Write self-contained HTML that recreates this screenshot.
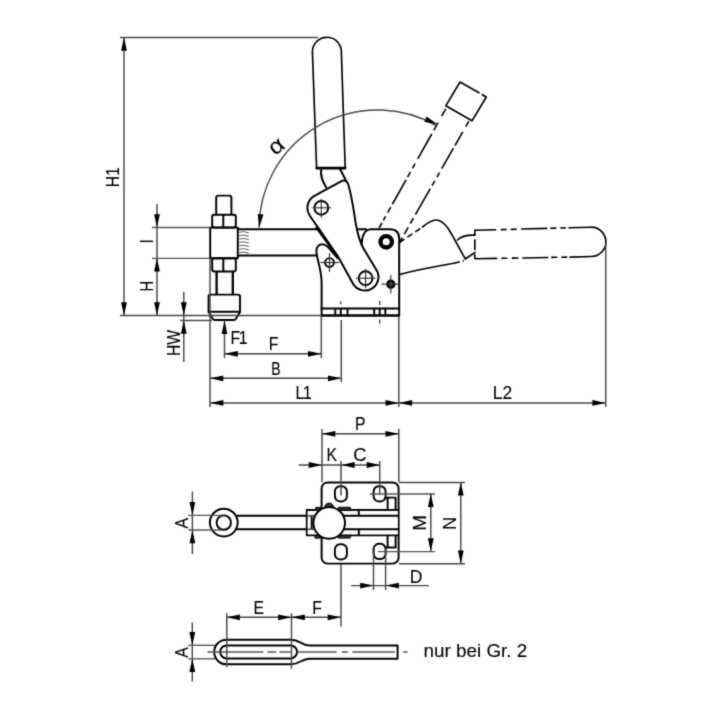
<!DOCTYPE html>
<html lang="de"><head><meta charset="utf-8"><title>Senkrechtspanner – Maßzeichnung</title>
<style>
html,body{margin:0;padding:0;background:#fff;}
body{width:720px;height:720px;overflow:hidden;}
svg{display:block;}
text{font-family:"Liberation Sans",sans-serif;fill:#000;stroke:#000;stroke-width:0.1px;}
.t{stroke:#484848;stroke-width:1.45;fill:none;}
.c{stroke:#333;stroke-width:1.15;fill:none;}
.t2{stroke:#444;stroke-width:0.9;fill:none;}
.t3{stroke:#555;stroke-width:1.35;fill:none;}
.k{stroke:#000;stroke-width:1.95;fill:none;stroke-linejoin:round;stroke-linecap:round;}
.kw{stroke:#000;stroke-width:1.95;fill:#fff;stroke-linejoin:round;stroke-linecap:round;}
.kf{stroke:#000;stroke-width:1;fill:#333;stroke-linejoin:round;}
.kmw{stroke:#000;stroke-width:1.65;fill:#fff;stroke-linejoin:round;stroke-linecap:round;}
.km{stroke:#000;stroke-width:1.65;fill:none;stroke-linejoin:round;stroke-linecap:round;}
.kk2{stroke:#000;stroke-width:2.3;fill:none;}
.kk{stroke:#000;stroke-width:2.6;fill:none;stroke-linecap:round;}
.kd{stroke:#000;stroke-width:1.6;fill:none;}
.a{fill:#000;stroke:none;}
</style></head>
<body>
<svg width="720" height="720" viewBox="0 0 720 720" role="img" aria-label="Maßzeichnung Senkrechtspanner">
<defs>
<filter id="soft" x="0" y="0" width="720" height="720" filterUnits="userSpaceOnUse" color-interpolation-filters="sRGB">
<feConvolveMatrix order="3" kernelMatrix="0.0196 0.1008 0.0196 0.1008 0.5184 0.1008 0.0196 0.1008 0.0196" edgeMode="duplicate" preserveAlpha="true"/>
</filter>
</defs>
<g filter="url(#soft)">
<rect width="720" height="720" fill="#fff"/>
<!-- side view: clamping arm -->
<line class="k" x1="238" y1="229.2" x2="366" y2="229.2" />
<line class="k" x1="238" y1="255.5" x2="317" y2="255.5" />
<path class="t2" d="M239.3,232.3 q4,-1.6 9.5,0.6" />
<path class="t2" d="M239.3,235.7 q4,-1.6 9.5,0.6" />
<path class="t2" d="M239.3,239.1 q4,-1.6 9.5,0.6" />
<path class="t2" d="M239.3,242.5 q4,-1.6 9.5,0.6" />
<path class="t2" d="M239.3,245.9 q4,-1.6 9.5,0.6" />
<path class="t2" d="M239.3,249.3 q4,-1.6 9.5,0.6" />
<path class="t2" d="M239.3,252.7 q4,-1.6 9.5,0.6" />
<!-- spindle with nuts and pressure pad -->
<path class="k" d="M216.2,214 V197.8 q0,-2.2 2.2,-2.2 h10.8 q2.2,0 2.2,2.2 V214" />
<path class="k" d="M212.2,216.6 q0,-1.8 1.8,-1.8 h20 q1.8,0 1.8,1.8 v9 q0,1.8 -1.8,1.8 h-20 q-1.8,0 -1.8,-1.8 z M223.3,214.8 v12.6" />
<path class="k" d="M210.2,227.6 h27.6 v30.6 h-27.6 z" />
<path class="k" d="M212.2,260 q0,-1.8 1.8,-1.8 h20 q1.8,0 1.8,1.8 v9.6 q0,1.8 -1.8,1.8 h-20 q-1.8,0 -1.8,-1.8 z M223.3,258.4 v12.8" />
<path class="kk2" d="M216.6,271.6 V294.4 M232.8,271.6 V294.4" />
<path class="k" d="M210.4,294.6 h27.8 q1.8,0 1.8,1.8 V311.7 l-4,7 q-0.8,1.3 -2.4,1.3 h-18.6 q-1.6,0 -2.4,-1.3 l-4,-7 V296.4 q0,-1.8 1.8,-1.8 z" />
<line class="k" x1="208.6" y1="311.7" x2="240" y2="311.7" />
<!-- side view: base body -->
<path class="kw" d="M362,248 C360.8,238 364,229.2 371,229.2 H390 Q399.2,229.2 399.2,239 V315.5 H321.6 V282 C321.3,268 316.6,259 316.4,251 C316.3,246.5 319.3,244.2 322.3,244.2 C326,244.2 328.5,247 331,250.5 L337.5,258" />
<path class="k" d="M321.6,308.4 H399.2 M321.6,315.5 H399.2" />
<line class="k" x1="335.3" y1="309" x2="335.3" y2="315" />
<line class="k" x1="340.8" y1="309" x2="340.8" y2="315" />
<line class="k" x1="347.5" y1="309" x2="347.5" y2="315" />
<line class="k" x1="374.2" y1="309" x2="374.2" y2="315" />
<line class="k" x1="379.7" y1="309" x2="379.7" y2="315" />
<line class="k" x1="385.3" y1="309" x2="385.3" y2="315" />
<line class="t" x1="340.8" y1="301.5" x2="340.8" y2="304.5" />
<line class="t" x1="379.7" y1="300.8" x2="379.7" y2="305" />
<line class="t" x1="379.7" y1="319.5" x2="379.7" y2="323.5" />
<circle cx="386.2" cy="241.8" r="5.7" fill="#fff" stroke="#000" stroke-width="4.3"/>
<circle class="k" cx="329.5" cy="262.5" r="4.4"/>
<line class="c" x1="320.5" y1="262.5" x2="339" y2="262.5" />
<line class="c" x1="329.5" y1="253" x2="329.5" y2="272" />
<circle cx="390.8" cy="284.2" r="3.4" fill="#4a4a4a" stroke="#000" stroke-width="2.6"/>
<line class="c" x1="381.5" y1="284.2" x2="400" y2="284.2" />
<line class="c" x1="390.8" y1="275" x2="390.8" y2="293.5" />
<!-- side view: open lever and phantom handle -->
<path class="kd" d="M399.5,242.5 L422.5,227" stroke-dasharray="6 3.5"/>
<path class="km" d="M422.5,227 C428,222.5 432,220 436,220 C441,220 445,224 448.5,229 C453,236 458,246 462,253 C463.5,256 464.5,257.5 465.5,258.8" />
<path class="km" d="M399.5,274.6 C408,272 425,268.5 437.5,266.2 C445,264.8 451,263.7 455,263" />
<path class="kd" d="M455,263 L464,260.5" stroke-dasharray="5 3"/>
<path class="km" d="M457.5,240 C461,236.5 466,234.8 475,235.2" />
<path class="kd" d="M474.8,229.8 V259" stroke-dasharray="5.5 4 11 4 5.5"/>
<path class="km" d="M475,252.5 L465.5,258.8" />
<path class="kd" d="M474.8,230.3 L573,227.7" stroke-dasharray="21.5 4.5 6 4 6 4.5 26 3 6 4 5.5 40"/>
<path class="kd" d="M474.8,258.8 L573,257" stroke-dasharray="22.5 4 6 4.5 6.5 4 26 3 6 4 6 40"/>
<path class="km" d="M569,227.8 L591,227.2 A14.6,14.6 0 0 1 591.5,256.5 L570,257.1" />
<!-- side view: toggle link and handle -->
<path class="kw" d="M309.8,215.7 L337.7,256.1 L353.5,284.4 A13.6,13.6 0 0 0 377.2,271.2 L363.8,249 C359.5,242 357.5,234 355.5,222 C353.5,208 351.5,196 348.6,185.5 Q347,179.5 342,180.8 L314.4,195.8 A13.9,13.9 0 0 0 309.8,215.7 Z" />
<polygon class="a" points="314.9,227.6 318.4,226.6 338.6,256.6 337.1,257.8"/>
<circle class="k" cx="321.3" cy="207.8" r="6.9"/>
<line class="c" x1="312.5" y1="207.8" x2="331" y2="207.8" />
<line class="c" x1="321.3" y1="199" x2="321.3" y2="217.5" />
<circle class="k" cx="365.6" cy="278.2" r="6.9"/>
<line class="c" x1="356" y1="278.2" x2="375.5" y2="278.2" />
<line class="c" x1="365.6" y1="268.8" x2="365.6" y2="288" />
<path class="k" d="M321.3,169 C320,176 322.3,181 326.3,187.6 M340,169 L346.3,181" />
<path class="kmw" d="M316.6,168 L312.4,51.2 A14.5,14.5 0 0 1 341.3,50.2 L345.2,168 Z" />
<line class="kk" x1="316.6" y1="168.1" x2="345.2" y2="168.1" />
<!-- phantom handle at opening angle -->
<path class="kd" d="M379.2,227.8 L445.8,108.8" stroke-dasharray="5.5 3 4.5 4.5 6.1 3.4 28 3 6 4 5.5 5.5 28.5 4.5 8.6 7.4 9"/>
<path class="kd" d="M399.5,242.5 L468.8,121.3" stroke-dasharray="5.5 4.1 7.9 4.4 6.1 4 30 3.6 5.4 4.4 5.2 4.4 23.7 3 15.8 6 6.1"/>
<path class="km" d="M479,92.8 L460,82 L445.8,105.8 L472,120.8 L486.3,97 L482.3,94.7" />
<!-- side view dimensions -->
<line class="t" x1="120" y1="37.5" x2="318" y2="37.5" />
<line class="t" x1="124" y1="37.5" x2="124" y2="315.5" />
<polygon class="a" points="124.00,37.50 126.90,50.80 121.10,50.80"/>
<polygon class="a" points="124.00,315.50 121.10,302.20 126.90,302.20"/>
<text font-size="17.5" text-anchor="middle" transform="translate(118.8 177.3) rotate(-90) scale(0.9 1)" >H1</text>
<line class="t" x1="120" y1="315.5" x2="321.5" y2="315.5" />
<line class="t3" x1="152" y1="227.5" x2="210" y2="227.5" />
<line class="t3" x1="152" y1="258.3" x2="210" y2="258.3" />
<line class="t" x1="157" y1="204" x2="157" y2="315.5" />
<polygon class="a" points="157.00,227.50 154.10,214.20 159.90,214.20"/>
<polygon class="a" points="157.00,258.30 159.90,271.60 154.10,271.60"/>
<polygon class="a" points="157.00,315.50 154.10,302.20 159.90,302.20"/>
<text font-size="17.5" text-anchor="middle" transform="translate(152.5 241.2) rotate(-90) scale(0.9 1)" >I</text>
<text font-size="17.5" text-anchor="middle" transform="translate(152.5 286.3) rotate(-90) scale(0.84 1)" >H</text>
<line class="t" x1="183.8" y1="292" x2="183.8" y2="362" />
<polygon class="a" points="183.80,315.50 180.90,302.20 186.70,302.20"/>
<polygon class="a" points="183.80,320.50 186.70,333.80 180.90,333.80"/>
<line class="t" x1="180" y1="320.5" x2="212" y2="320.5" />
<text font-size="17.5" text-anchor="middle" transform="translate(180 343) rotate(-90) scale(0.9 1)" >HW</text>
<line class="t" x1="224.5" y1="320.5" x2="224.5" y2="358" />
<polygon class="a" points="224.50,320.80 227.40,334.10 221.60,334.10"/>
<text font-size="17.5" text-anchor="middle" transform="translate(238.2 344) scale(0.9 1)" letter-spacing="-1.6">F1</text>
<line class="t" x1="224.5" y1="353.8" x2="321.3" y2="353.8" />
<polygon class="a" points="224.50,353.80 237.80,350.90 237.80,356.70"/>
<polygon class="a" points="321.30,353.80 308.00,356.70 308.00,350.90"/>
<line class="t" x1="321.3" y1="316" x2="321.3" y2="358" />
<text font-size="17.5" text-anchor="middle" transform="translate(273.5 350) scale(0.9 1)" >F</text>
<line class="t" x1="210" y1="378.3" x2="341.3" y2="378.3" />
<polygon class="a" points="210.00,378.30 223.30,375.40 223.30,381.20"/>
<polygon class="a" points="341.30,378.30 328.00,381.20 328.00,375.40"/>
<line class="t" x1="341.3" y1="320" x2="341.3" y2="382" />
<text font-size="17.5" text-anchor="middle" transform="translate(275.8 374.5) scale(0.8 1)" >B</text>
<line class="t" x1="210" y1="402.9" x2="605.7" y2="402.9" />
<polygon class="a" points="210.00,402.90 223.30,400.00 223.30,405.80"/>
<polygon class="a" points="398.80,402.90 385.50,405.80 385.50,400.00"/>
<polygon class="a" points="398.80,402.90 412.10,400.00 412.10,405.80"/>
<polygon class="a" points="605.70,402.90 592.40,405.80 592.40,400.00"/>
<line class="t" x1="210" y1="258.3" x2="210" y2="407" />
<line class="t" x1="398.8" y1="316" x2="398.8" y2="407" />
<line class="t" x1="605.7" y1="243" x2="605.7" y2="407" />
<text font-size="17.5" text-anchor="middle" transform="translate(303 398.8) scale(0.9 1)" letter-spacing="-1.3">L1</text>
<text font-size="17.5" text-anchor="middle" transform="translate(502.5 398.8) scale(1.0 1)" >L2</text>
<path class="t" d="M259.0,227.5 A118.5,118.5 0 0 1 436.8,125.9" />
<polygon class="a" points="259.20,227.50 257.71,213.97 263.47,214.58"/>
<polygon class="a" points="437.60,124.60 424.27,121.84 426.63,116.54"/>
<text font-size="22" text-anchor="middle" transform="translate(280.5 151.5) rotate(-38) scale(1.12 1)" >α</text>
<!-- top view geometry -->
<rect class="kw" x="321.6" y="482.4" width="77" height="81.2" rx="6" ry="6"/>
<rect class="k" x="334.9" y="486.2" width="12" height="15.2" rx="5.2" ry="5.2"/>
<rect class="k" x="373.6" y="486.2" width="12" height="15.2" rx="5.2" ry="5.2"/>
<rect class="k" x="334.9" y="544.2" width="12" height="15.2" rx="5.2" ry="5.2"/>
<rect class="k" x="373.6" y="543.8" width="12" height="15.2" rx="5.2" ry="5.2"/>
<path class="k" d="M385.8,497.6 H395.6 V509.8 M387.6,497.6 V509.8" />
<path class="k" d="M385.8,547.4 H395.6 V535.4 M387.6,547.4 V535.4" />
<line class="k" x1="237.5" y1="515.8" x2="307" y2="515.8" />
<line class="k" x1="237.5" y1="529.2" x2="307" y2="529.2" />
<circle class="k" cx="223.8" cy="522.6" r="13.9"/>
<circle class="k" cx="223.8" cy="522.6" r="7.2"/>
<path class="kw" d="M306.8,510 H398.3 M306.8,535.3 H398.3 M306.8,510 V535.3 M311.7,516.5 V528.5" />
<rect x="307.7" y="510.9" width="90" height="23.5" fill="#fff"/>
<path class="k" d="M311.7,516.5 V528.5 M343,515.8 H398.3 M343,529.2 H398.3 M358.8,510 V515.8 M358.8,529.2 V535.3" />
<path class="kf" d="M323.8,509.5 q1,-6.5 5.3,-6.5 q4.3,0 5.3,6.5 z M315.8,507.3 h5.2 v2.7 h-5.2 z M338.3,507.3 h12 v2.7 h-12 z M315,535.3 h19.5 v2.8 h-19.5 z M338.3,535.3 h12 v2.8 h-12 z" />
<line class="t" x1="306.8" y1="515.8" x2="314" y2="515.8" />
<line class="t" x1="306.8" y1="529.2" x2="314" y2="529.2" />
<circle class="kw" cx="329.2" cy="522.9" r="15.8"/>
<!-- top view dimensions -->
<line class="t" x1="322" y1="433.8" x2="398.8" y2="433.8" />
<polygon class="a" points="322.00,433.80 335.30,430.90 335.30,436.70"/>
<polygon class="a" points="398.80,433.80 385.50,436.70 385.50,430.90"/>
<line class="t" x1="322" y1="429" x2="322" y2="482" />
<line class="t" x1="398.8" y1="429" x2="398.8" y2="482" />
<text font-size="17.5" text-anchor="middle" transform="translate(360.3 430) scale(0.9 1)" >P</text>
<line class="t" x1="298.8" y1="465" x2="380" y2="465" />
<polygon class="a" points="322.00,465.00 308.70,467.90 308.70,462.10"/>
<polygon class="a" points="341.30,465.00 354.60,462.10 354.60,467.90"/>
<polygon class="a" points="380.00,465.00 366.70,467.90 366.70,462.10"/>
<line class="t" x1="341" y1="461" x2="341" y2="495.5" />
<line class="t" x1="379.7" y1="461" x2="379.7" y2="494" />
<text font-size="17.5" text-anchor="middle" transform="translate(331.8 461.3) scale(0.9 1)" >K</text>
<text font-size="17.5" text-anchor="middle" transform="translate(360 461.3) scale(1.05 1)" >C</text>
<line class="t" x1="430.8" y1="493.8" x2="430.8" y2="551.5" />
<polygon class="a" points="430.80,493.80 433.70,507.10 427.90,507.10"/>
<polygon class="a" points="430.80,551.50 427.90,538.20 433.70,538.20"/>
<line class="t3" x1="370" y1="494" x2="435" y2="494" />
<line class="t3" x1="378" y1="551.6" x2="435" y2="551.6" />
<text font-size="17.5" text-anchor="middle" transform="translate(426.2 522.8) rotate(-90) scale(1.08 1)" >M</text>
<line class="t" x1="460.8" y1="482.3" x2="460.8" y2="563.8" />
<polygon class="a" points="460.80,482.30 463.70,495.60 457.90,495.60"/>
<polygon class="a" points="460.80,563.80 457.90,550.50 463.70,550.50"/>
<line class="t" x1="399" y1="482.4" x2="465" y2="482.4" />
<line class="t" x1="399" y1="563.7" x2="465" y2="563.7" />
<text font-size="17.5" text-anchor="middle" transform="translate(456.2 523.3) rotate(-90) scale(1.05 1)" >N</text>
<line class="t" x1="351.3" y1="585.6" x2="428.8" y2="585.6" />
<polygon class="a" points="373.50,585.60 360.20,588.50 360.20,582.70"/>
<polygon class="a" points="385.60,585.60 398.90,582.70 398.90,588.50"/>
<line class="t" x1="373.5" y1="551.6" x2="373.5" y2="590" />
<line class="t" x1="385.6" y1="549" x2="385.6" y2="590" />
<text font-size="17.5" text-anchor="middle" transform="translate(416 582.5) scale(1.0 1)" >D</text>
<line class="t" x1="341" y1="564" x2="341" y2="626.5" />
<line class="t" x1="192.4" y1="491.5" x2="192.4" y2="554" />
<polygon class="a" points="192.40,515.30 189.50,502.00 195.30,502.00"/>
<polygon class="a" points="192.40,530.00 195.30,543.30 189.50,543.30"/>
<line class="t3" x1="188.3" y1="515.3" x2="221.5" y2="515.3" />
<line class="t3" x1="188.3" y1="530" x2="221.5" y2="530" />
<text font-size="17.5" text-anchor="middle" transform="translate(188.3 523.2) rotate(-90) scale(0.9 1)" >A</text>
<!-- detail: slotted arm, size 2 only -->
<path class="kw" d="M226.5,639.7 H291.5 C299.5,639.7 301.5,645.5 309.5,645.5 H397.6 V658.7 H309.5 C301.5,658.7 299.5,664.3 291.5,664.3 H226.5 A12.3,12.3 0 0 1 226.5,639.7 Z" />
<rect class="k" x="220.2" y="645.4" width="76.8" height="13" rx="6.5" ry="6.5"/>
<line class="t3" x1="207.5" y1="652" x2="407.5" y2="652" stroke-dasharray="55.8 4.2 8.8 3.1 11.4 6.2 39.7 5.2 6.2 4.2 42.7 8.3 4.2"/>
<line class="t" x1="226.6" y1="617.3" x2="341" y2="617.3" />
<polygon class="a" points="226.60,617.30 239.90,614.40 239.90,620.20"/>
<polygon class="a" points="291.50,617.30 278.20,620.20 278.20,614.40"/>
<polygon class="a" points="291.50,617.30 304.80,614.40 304.80,620.20"/>
<polygon class="a" points="341.00,617.30 327.70,620.20 327.70,614.40"/>
<line class="t" x1="226.8" y1="613.3" x2="226.8" y2="667" />
<line class="t" x1="291.5" y1="613.3" x2="291.5" y2="668.8" />
<text font-size="17.5" text-anchor="middle" transform="translate(258.8 613.8) scale(0.9 1)" >E</text>
<text font-size="17.5" text-anchor="middle" transform="translate(317 613.8) scale(0.9 1)" >F</text>
<line class="t" x1="192.3" y1="622.5" x2="192.3" y2="681.5" />
<polygon class="a" points="192.30,645.30 189.40,632.00 195.20,632.00"/>
<polygon class="a" points="192.30,658.80 195.20,672.10 189.40,672.10"/>
<line class="t3" x1="188.3" y1="645.3" x2="215" y2="645.3" />
<line class="t3" x1="188.3" y1="658.8" x2="215" y2="658.8" />
<text font-size="17.5" text-anchor="middle" transform="translate(187.6 652.5) rotate(-90) scale(0.9 1)" >A</text>
<text font-size="18" text-anchor="middle" transform="translate(475.4 657.4) scale(1.05 1)" >nur bei Gr. 2</text>
</g>
</svg>
</body></html>
